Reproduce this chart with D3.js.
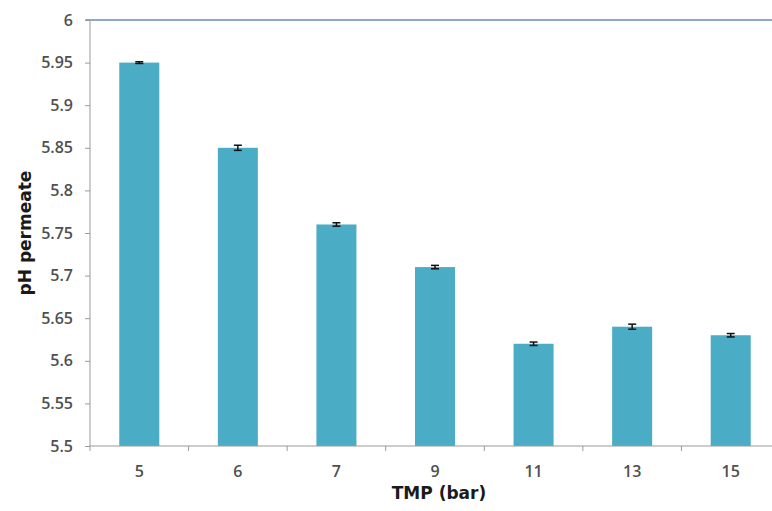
<!DOCTYPE html>
<html>
<head>
<meta charset="utf-8">
<script src="https://cdn.jsdelivr.net/npm/d3@7"></script>
<style>
  body { margin: 0; background: #fff; }
  .axis text { font-family: "Open Sans", "DejaVu Sans", sans-serif; font-size: 16px; fill: #505050; font-weight: 600; }
  .axis path, .axis line { stroke: #9a9a9a; }
  .label { font-family: "DejaVu Sans", sans-serif; font-size: 17px; font-weight: bold; fill: #1a1a1a; }
</style>
</head>
<body>
<svg id="chart" width="772" height="511"></svg>
<script>
const categories = ["5", "6", "7", "9", "11", "13", "15"];
const phValues = [5.95, 5.85, 5.76, 5.71, 5.62, 5.64, 5.63];
const phErrors = [0.001, 0.003, 0.002, 0.002, 0.002, 0.003, 0.002];
const yTicks = [5.5, 5.55, 5.6, 5.65, 5.7, 5.75, 5.8, 5.85, 5.9, 5.95, 6];

const svg = d3.select("#chart"),
  plotLeft = 90, plotTop = 20, plotBottom = 446, bandRight = 780;

const data = categories.map((c, i) => ({tmp: c, ph: phValues[i], err: phErrors[i]}));

const xScale = d3.scaleBand()
  .domain(categories)
  .range([plotLeft, bandRight])
  .paddingInner(0.594)
  .paddingOuter(0.297);

const yScale = d3.scaleLinear()
  .domain([5.5, 6])
  .range([plotBottom, plotTop]);

// top border line at 6
svg.append("line")
  .attr("x1", plotLeft - 4).attr("x2", 772)
  .attr("y1", yScale(6)).attr("y2", yScale(6))
  .attr("stroke", "#8fa8c8").attr("stroke-width", 2);

svg.selectAll(".bar")
  .data(data)
  .enter().append("rect")
    .attr("class", "bar")
    .attr("x", d => xScale(d.tmp))
    .attr("y", d => yScale(d.ph))
    .attr("width", xScale.bandwidth())
    .attr("height", d => plotBottom - yScale(d.ph))
    .attr("fill", "#4bacc6");

// error bars
const eb = svg.selectAll(".err")
  .data(data)
  .enter().append("g")
    .attr("class", "err")
    .attr("transform", d => `translate(${xScale(d.tmp) + xScale.bandwidth() / 2},0)`);
eb.append("line")
  .attr("y1", d => yScale(d.ph + d.err)).attr("y2", d => yScale(d.ph - d.err))
  .attr("stroke", "#111").attr("stroke-width", 1.5);
eb.append("line")
  .attr("x1", -4).attr("x2", 4)
  .attr("y1", d => yScale(d.ph + d.err)).attr("y2", d => yScale(d.ph + d.err))
  .attr("stroke", "#111").attr("stroke-width", 1.5);
eb.append("line")
  .attr("x1", -4).attr("x2", 4)
  .attr("y1", d => yScale(d.ph - d.err)).attr("y2", d => yScale(d.ph - d.err))
  .attr("stroke", "#111").attr("stroke-width", 1.5);

// y axis
const yAxis = svg.append("g")
  .attr("class", "axis y")
  .attr("transform", `translate(${plotLeft},0)`)
  .call(d3.axisLeft(yScale).tickValues(yTicks).tickSize(5).tickPadding(12).tickFormat(d3.format("")));
yAxis.select(".domain").attr("d", `M-5,${plotTop}H0V${plotBottom}`);

// x axis: ticks between categories
const xAxis = svg.append("g")
  .attr("class", "axis x")
  .attr("transform", `translate(0,${plotBottom})`)
  .call(d3.axisBottom(xScale).tickSize(0).tickPadding(20));
xAxis.select(".domain").attr("d", `M${plotLeft},0H772`);
const step = xScale.step();
xAxis.selectAll(".sep")
  .data(categories)
  .enter().append("line")
    .attr("class", "sep")
    .attr("x1", (d, i) => plotLeft + i * step).attr("x2", (d, i) => plotLeft + i * step)
    .attr("y1", 0).attr("y2", 5);

svg.append("text")
  .attr("class", "label")
  .attr("text-anchor", "middle")
  .attr("transform", `translate(31,${(plotTop + plotBottom) / 2}) rotate(-90)`)
  .text("pH permeate");

svg.append("text")
  .attr("class", "label")
  .attr("text-anchor", "middle")
  .attr("x", 439).attr("y", 499)
  .text("TMP (bar)");
</script>
</body>
</html>
